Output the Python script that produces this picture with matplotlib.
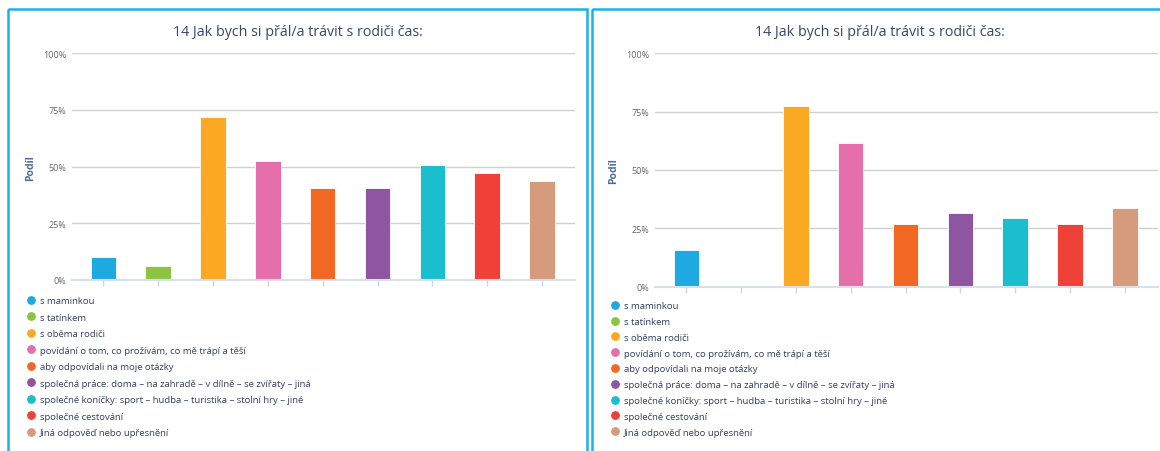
import matplotlib.pyplot as plt
from matplotlib.patches import Rectangle

# data
categories = [
    "s maminkou",
    "s tatínkem",
    "s oběma rodiči",
    "povídání o tom, co prožívám, co mě trápí a těší",
    "aby odpovídali na moje otázky",
    "společná práce: doma – na zahradě – v dílně – se zvířaty – jiná",
    "společné koníčky: sport – hudba – turistika – stolní hry – jiné",
    "společné cestování",
    "Jiná odpověď nebo upřesnění",
]
left_values = [10.0, 6.2, 72.0, 52.5, 40.4, 40.4, 50.6, 47.3, 43.7]
right_values = [15.7, 0.0, 77.3, 61.4, 27.0, 31.7, 29.5, 27.0, 33.9]
yticks = [0, 25, 50, 75, 100]
ytick_labels = ["0%", "25%", "50%", "75%", "100%"]
title = "14 Jak bych si přál/a trávit s rodiči čas:"
ylabel = "Podíl"

colors = ["#1ea9e1", "#8bc441", "#fba922", "#e66fab", "#f26722",
          "#8e55a0", "#1bbecf", "#ef4137", "#d69a7c"]

W, H = 1160, 452
plt.rcParams['font.family'] = ['Open Sans', 'DejaVu Sans']
fig = plt.figure(figsize=(W / 100, H / 100), dpi=100)

# overlay for frames, titles and legends (pixel coords)
ov = fig.add_axes([0, 0, 1, 1])
ov.set_xlim(0, W)
ov.set_ylim(H, 0)
ov.axis('off')

border = "#1bb1e9"
ov.add_patch(Rectangle((8, 10), 579, 460, fill=False, ec=border, lw=1.8))
ov.add_patch(Rectangle((592, 10), 600, 460, fill=False, ec=border, lw=1.8))


def draw_panel(px0, px1, py_top, py_bot, values, title_x, ylabel_x,
               legend_x, legend_y0, legend_dy):
    ax = fig.add_axes([px0 / W, 1 - py_bot / H, (px1 - px0) / W,
                       (py_bot - py_top) / H])
    x = list(range(len(values)))
    ax.bar(x, values, width=0.465, color=colors, edgecolor='white',
           linewidth=0.6, zorder=3)
    ax.set_xlim(-0.57, len(values) - 1 + 0.6)
    ax.set_ylim(0, 100)
    ax.set_yticks(yticks)
    ax.set_yticklabels(ytick_labels)
    ax.set_xticks(x)
    ax.set_xticklabels([])
    ax.grid(axis='y', color='#d0d0d0', lw=1, zorder=0)
    for s in ['top', 'right', 'left']:
        ax.spines[s].set_visible(False)
    ax.spines['bottom'].set_color('#d8e0ec')
    ax.spines['bottom'].set_linewidth(1.5)
    ax.spines['bottom'].set_zorder(4)
    ax.tick_params(axis='y', length=0, labelsize=6.5, labelcolor='#666666', pad=4)
    ax.tick_params(axis='x', length=4, color='#ccd6eb', width=1)
    ax.set_facecolor('none')

    ov.text(title_x, 32, title, ha='center', va='center', fontsize=10.3,
            color='#34496e')
    ov.text(ylabel_x, (py_top + py_bot) / 2, ylabel, rotation=90,
            ha='center', va='center', fontsize=7.5, fontweight='bold',
            color='#4d6d99')
    for i, (lab, c) in enumerate(zip(categories, colors)):
        y = legend_y0 + i * legend_dy
        ov.scatter([legend_x], [y - 1], s=28, color=c, zorder=5)
        ov.text(legend_x + 9, y, lab, ha='left', va='center', fontsize=6.8,
                color='#333f5c')


draw_panel(72, 575, 54.3, 281, left_values, 298, 31, 31, 301.7, 16.5)
draw_panel(655, 1157.7, 54.3, 287.7, right_values, 880, 614, 615, 306.7, 15.8)

fig.savefig("out.png", dpi=100)
